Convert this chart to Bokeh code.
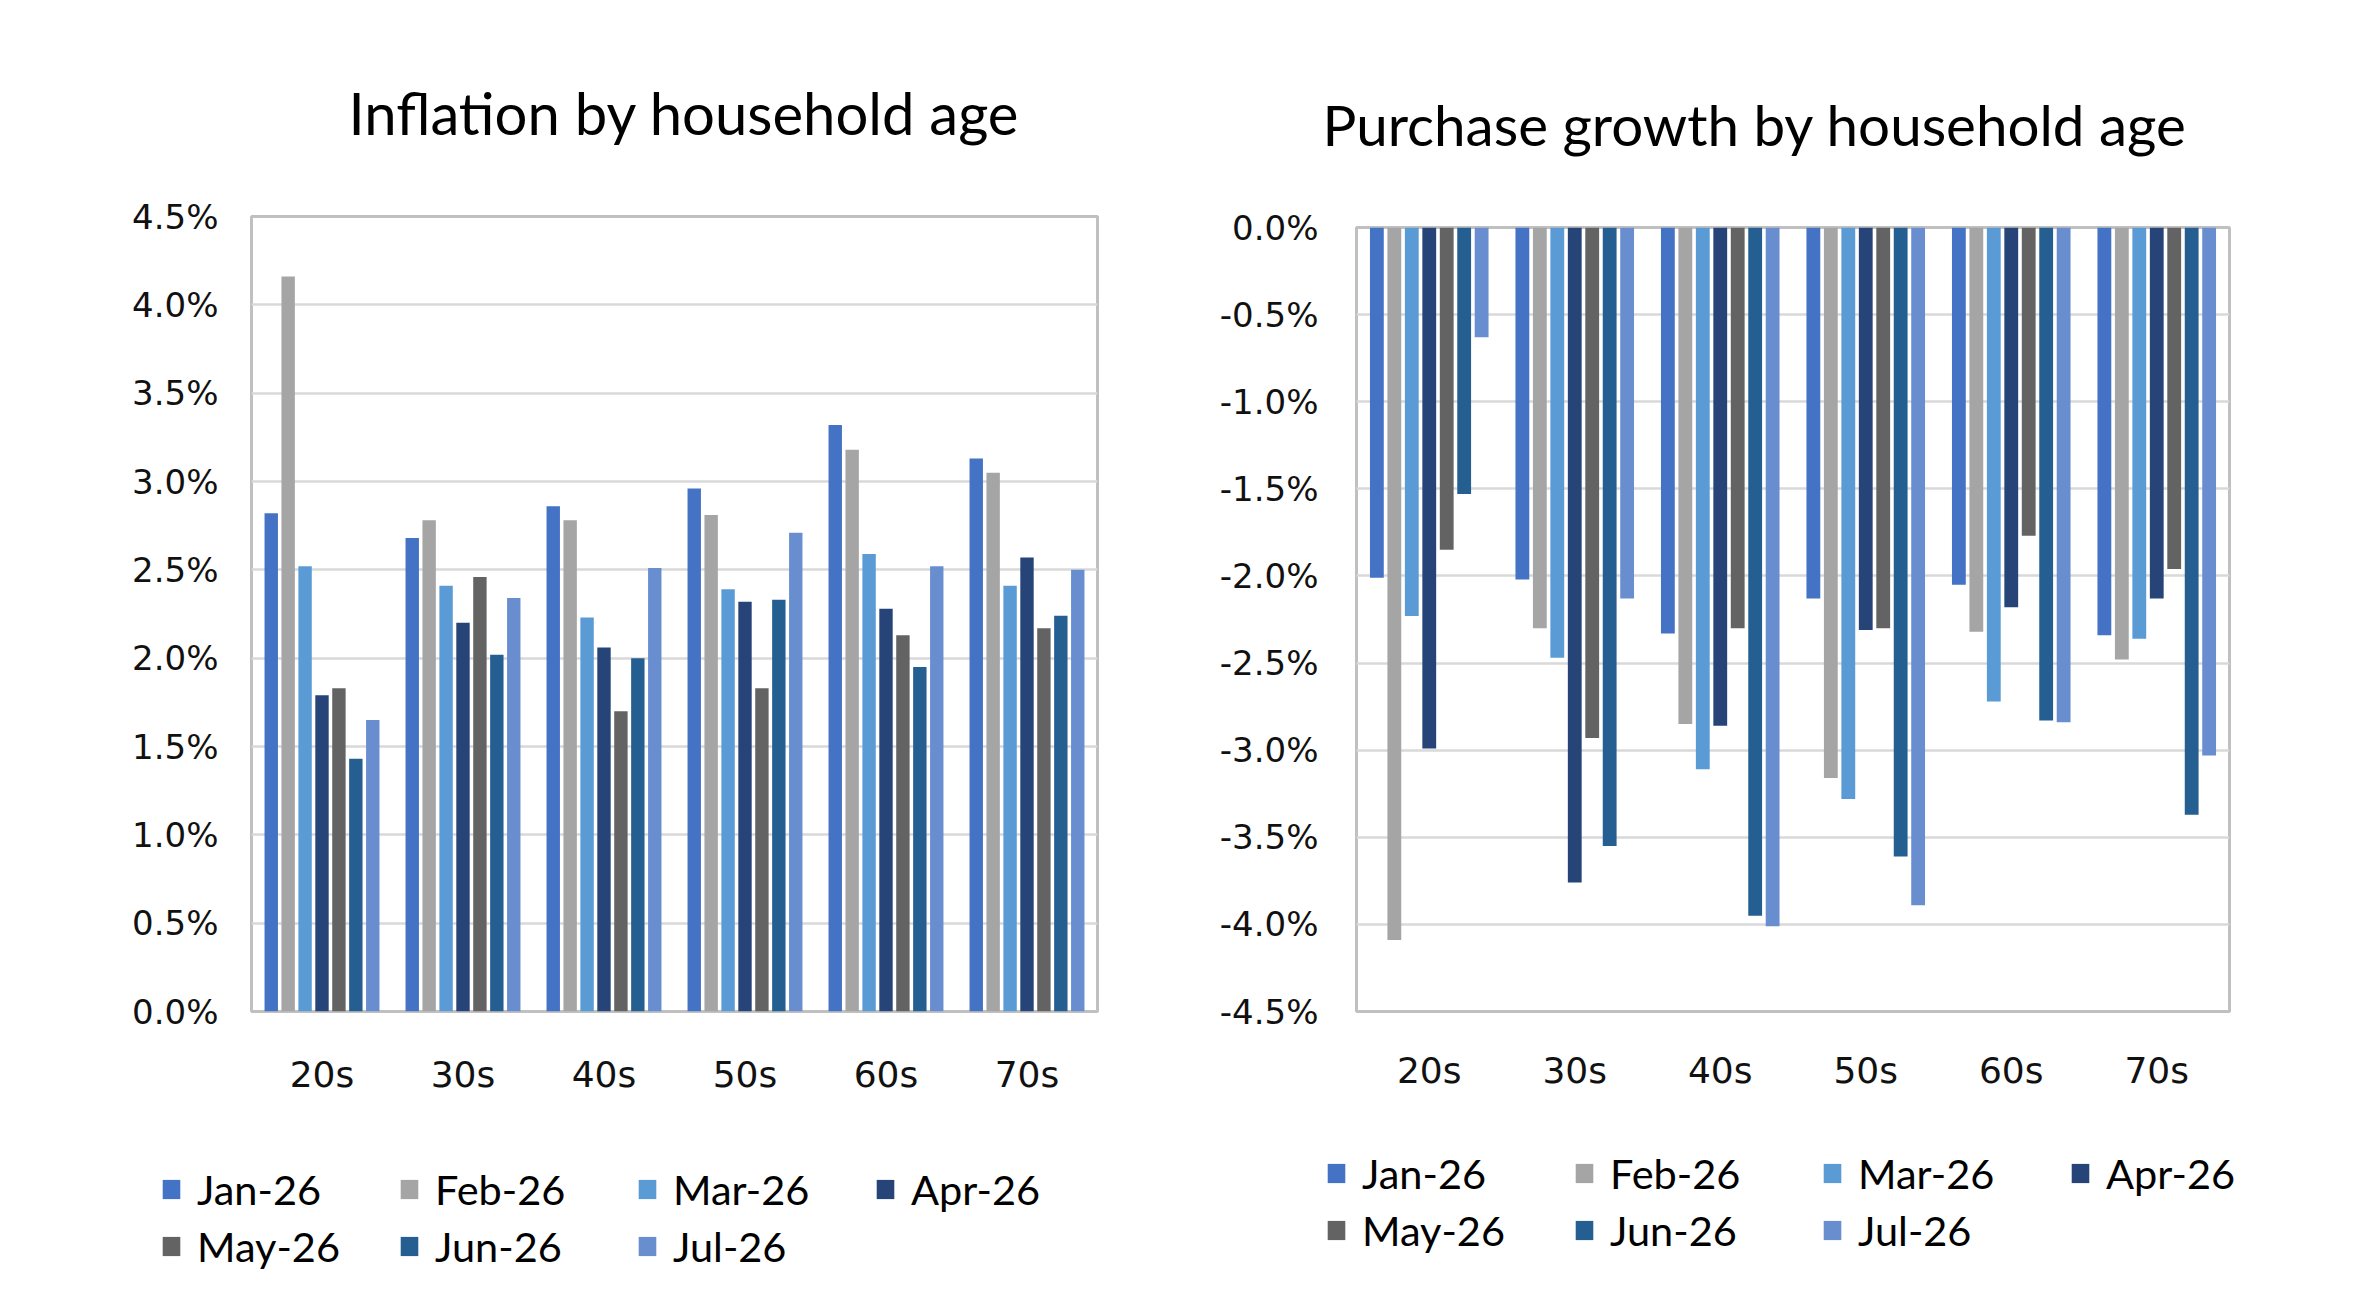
from bokeh.plotting import figure
from bokeh.layouts import row, column
from bokeh.models import (ColumnDataSource, FactorRange, Range1d, FixedTicker,
                          PrintfTickFormatter, Legend, LegendItem, Title)
from bokeh.transform import dodge
from bokeh.embed import file_html
from bokeh.resources import INLINE

# categories and series
ages = ["20s", "30s", "40s", "50s", "60s", "70s"]
months = ["Jan-26", "Feb-26", "Mar-26", "Apr-26", "May-26", "Jun-26", "Jul-26"]
colors = ["#4472C4", "#A5A5A5", "#5B9BD5", "#264478", "#636363", "#255E91", "#698ED0"]

# inflation by household age (%)
infl_jan = [2.82, 2.68, 2.86, 2.96, 3.32, 3.13]
infl_feb = [4.16, 2.78, 2.78, 2.81, 3.18, 3.05]
infl_mar = [2.52, 2.41, 2.23, 2.39, 2.59, 2.41]
infl_apr = [1.79, 2.20, 2.06, 2.32, 2.28, 2.57]
infl_may = [1.83, 2.46, 1.70, 1.83, 2.13, 2.17]
infl_jun = [1.43, 2.02, 2.00, 2.33, 1.95, 2.24]
infl_jul = [1.65, 2.34, 2.51, 2.71, 2.52, 2.50]

# purchase growth by household age (%)
purch_jan = [-2.01, -2.02, -2.33, -2.13, -2.05, -2.34]
purch_feb = [-4.09, -2.30, -2.85, -3.16, -2.32, -2.48]
purch_mar = [-2.23, -2.47, -3.11, -3.28, -2.72, -2.36]
purch_apr = [-2.99, -3.76, -2.86, -2.31, -2.18, -2.13]
purch_may = [-1.85, -2.93, -2.30, -2.30, -1.77, -1.96]
purch_jun = [-1.53, -3.55, -3.95, -3.61, -2.83, -3.37]
purch_jul = [-0.63, -2.13, -4.01, -3.89, -2.84, -3.03]

y_ticks_infl = [0, 0.5, 1.0, 1.5, 2.0, 2.5, 3.0, 3.5, 4.0, 4.5]
y_ticks_purch = [0, -0.5, -1.0, -1.5, -2.0, -2.5, -3.0, -3.5, -4.0, -4.5]

TICK_FONT = "DejaVu Sans"
TEXT_FONT = "Lato"
CHART_H = 1110
LEGEND_H = 170


def make_chart(title, series, y_start, y_end, ticks, width, borders,
               title_size, title_offset, title_standoff, xstand, ystand):
    left, right, top, bottom = borders
    p = figure(x_range=FactorRange(*ages), y_range=Range1d(y_start, y_end),
               width=width, height=CHART_H, min_border_left=left, min_border_right=right,
               min_border_top=top, min_border_bottom=bottom,
               toolbar_location=None, tools="", output_backend="svg")
    data = {"age": ages}
    for m, vals in zip(months, series):
        data[m] = vals
    source = ColumnDataSource(data)

    for i, (m, c) in enumerate(zip(months, colors)):
        off = (i - 3) * 0.12
        if y_end <= 0:
            p.vbar(x=dodge("age", off, range=p.x_range), top=0, bottom=m, width=0.095,
                   source=source, fill_color=c, line_color=None)
        else:
            p.vbar(x=dodge("age", off, range=p.x_range), top=m, bottom=0, width=0.095,
                   source=source, fill_color=c, line_color=None)

    p.yaxis.ticker = FixedTicker(ticks=ticks)
    p.yaxis.formatter = PrintfTickFormatter(format="%.1f%%")
    for ax in (p.xaxis[0], p.yaxis[0]):
        ax.axis_line_color = None
        ax.major_tick_line_color = None
        ax.minor_tick_line_color = None
        ax.major_tick_out = 0
        ax.major_label_text_font = TICK_FONT
        ax.major_label_text_font_size = "34px"
        ax.major_label_text_color = "#111111"
    p.xaxis.major_label_text_font_size = "36px"
    p.xaxis.major_label_standoff = xstand
    p.yaxis.major_label_standoff = ystand

    p.xgrid.grid_line_color = None
    p.ygrid.grid_line_color = "#d9d9d9"
    p.ygrid.grid_line_width = 2.5
    p.outline_line_color = "#c0c0c0"
    p.outline_line_width = 3
    p.background_fill_color = "white"
    p.border_fill_color = "white"

    p.add_layout(Title(text=title, text_font=TEXT_FONT, text_font_size=title_size,
                       text_font_style="normal", text_color="#000000",
                       align="left", vertical_align="top", offset=title_offset,
                       standoff=title_standoff), "above")
    return p


def make_legend(width, left, top, label_width):
    # small figure that only holds the legend below a chart
    p = figure(width=width, height=LEGEND_H, x_range=Range1d(0, 1), y_range=Range1d(0, 1),
               x_axis_type=None, y_axis_type=None, min_border_left=left, min_border_top=top,
               min_border_right=0, min_border_bottom=0,
               toolbar_location=None, tools="", output_backend="svg")
    p.grid.visible = False
    p.outline_line_color = None
    items = []
    for m, c in zip(months, colors):
        # zero-size bar, only used as the legend swatch
        r = p.vbar(x=[0], top=[0], bottom=[0], width=0, fill_color=c, line_color=None)
        items.append(LegendItem(label=m, renderers=[r]))
    legend = Legend(items=items, location="top_left", orientation="horizontal", ncols=4,
                    glyph_width=22, glyph_height=24, label_standoff=15,
                    label_width=label_width, spacing=7, padding=0, margin=0,
                    label_text_font=TEXT_FONT, label_text_font_size="41.5px",
                    label_text_color="#000000", border_line_color=None,
                    background_fill_alpha=0)
    p.add_layout(legend, "center")
    return p


left_chart = make_chart("Inflation by household age",
                        [infl_jan, infl_feb, infl_mar, infl_apr, infl_may, infl_jun, infl_jul],
                        0, 4.5, y_ticks_infl, 1180, (251, 83, 216, 99),
                        "58px", 97, 136, 42, 33)
right_chart = make_chart("Purchase growth by household age",
                         [purch_jan, purch_feb, purch_mar, purch_apr, purch_may, purch_jun, purch_jul],
                         -4.5, 0, y_ticks_purch, 1181, (176, 132, 227, 99),
                         "56.5px", -34, 135, 38, 38)
left_legend = make_legend(1180, 160, 54, 194)
right_legend = make_legend(1181, 145, 38, 204)

layout = column(row(column(left_chart), column(right_chart)),
                row(column(left_legend), column(right_legend)))
open("out.html", "w").write(file_html(layout, INLINE))
